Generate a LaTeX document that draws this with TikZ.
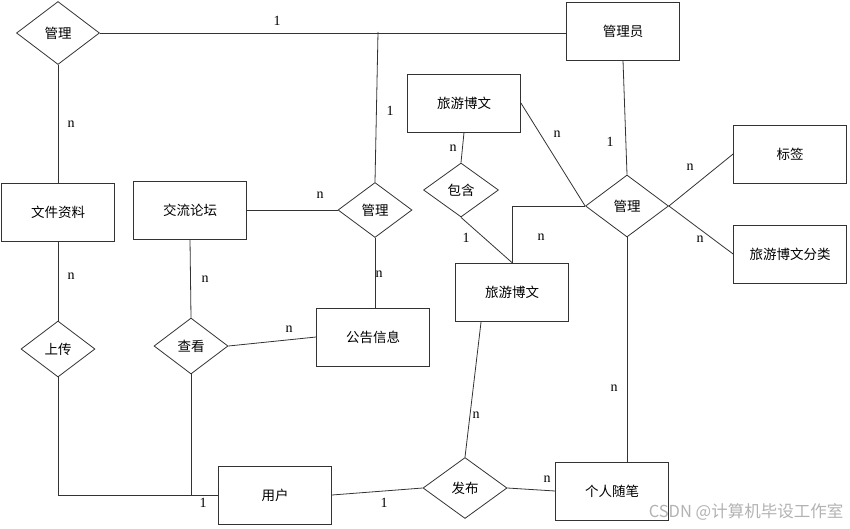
\documentclass[tikz,border=0pt]{standalone}
\usepackage{fontspec}
\setmainfont{Liberation Serif}
\newfontfamily\cjk{Noto Sans CJK SC}
\usetikzlibrary{shapes.geometric,calc}
\begin{document}
\begin{tikzpicture}[x=1pt,y=-1pt,
  ent/.style={draw=black!80,line width=0.8pt,minimum width=113pt,minimum height=58pt,inner sep=0pt,font=\cjk\fontsize{13.5}{15}\selectfont},
  rel/.style={draw=black!80,line width=0.8pt,diamond,aspect=1,inner sep=0pt,font=\cjk\fontsize{13.5}{15}\selectfont},
  lnk/.style={draw=black!80,line width=0.8pt},
  card/.style={inner sep=0pt,font=\fontsize{14}{16}\selectfont}]
\useasboundingbox (0,0) rectangle (850,528);
% entities
\node[ent] (adm) at (623,31) {管理员};
\node[ent] (file) at (58,212) {文件资料};
\node[ent] (forum) at (190,210) {交流论坛};
\node[ent] (notice) at (373,337) {公告信息};
\node[ent] (user) at (275,495) {用户};
\node[ent] (essay) at (612,491) {个人随笔};
\node[ent] (blog2) at (512,292) {旅游博文};
\node[ent] (blog1) at (464,103) {旅游博文};
\node[ent] (tag) at (790,154) {标签};
\node[ent] (cat) at (790,254) {旅游博文分类};
% relations
\node[rel,minimum width=83pt,minimum height=63pt] (m1) at (58,33) {管理};
\node[rel,minimum width=74pt,minimum height=55pt] (m2) at (375,210) {管理};
\node[rel,minimum width=74pt,minimum height=56pt] (up) at (58,349) {上传};
\node[rel,minimum width=74pt,minimum height=56pt] (view) at (191,346) {查看};
\node[rel,minimum width=84pt,minimum height=61pt] (pub) at (465,488) {发布};
\node[rel,minimum width=75pt,minimum height=54pt] (inc) at (461,190) {包含};
\node[rel,minimum width=83pt,minimum height=62pt] (m3) at (627,206) {管理};
\coordinate (j1) at (378,32);
% connectors
\draw[lnk] (m1.east) -- (m1.east -| adm.west);
\draw[lnk] (j1) -- (m2.north);
\draw[lnk] (m1.south) -- (file.north);
\draw[lnk] (forum.east) -- (m2.west);
\draw[lnk] (m2.south) -- (m2.south |- notice.north);
\draw[lnk] (file.south) -- (up.north);
\draw[lnk] (up.south) |- (user.west);
\draw[lnk] (forum.south) -- (view.north);
\draw[lnk] (view.east) -- (notice.west);
\draw[lnk] (view.south) -- (view.south |- user.west);
\draw[lnk] (user.east) -- (pub.west);
\draw[lnk] (pub.east) -- (essay.west);
\draw[lnk] (pub.north) -- ([xshift=26pt]blog2.south west);
\draw[lnk] (blog1.south) -- (inc.north);
\draw[lnk] (inc.south) -- (blog2.north);
\draw[lnk] (blog2.north) |- (m3.west);
\draw[lnk] (adm.south) -- (m3.north);
\draw[lnk] (blog1.east) -- (m3.west);
\draw[lnk] (m3.south) -- (m3.south |- essay.north);
\draw[lnk] (tag.west) -- (m3.east);
\draw[lnk] (cat.west) -- (m3.east);
% cardinalities
\node[card] (c1) at (277,21) {1};
\node[card] (c2) at (390,111) {1};
\node[card] (c3) at (71,124) {n};
\node[card] (c4) at (320,195) {n};
\node[card] (c5) at (379,274) {n};
\node[card] (c6) at (71,276) {n};
\node[card] (c7) at (205,279) {n};
\node[card] (c8) at (289,329) {n};
\node[card] (c9) at (203,503) {1};
\node[card] (c10) at (384,503) {1};
\node[card] (c11) at (547,479) {n};
\node[card] (c12) at (476,415) {n};
\node[card] (c13) at (453,148) {n};
\node[card] (c14) at (466,238) {1};
\node[card] (c15) at (541,237) {n};
\node[card] (c16) at (610,142) {1};
\node[card] (c17) at (557,134) {n};
\node[card] (c18) at (614,388) {n};
\node[card] (c19) at (690,167) {n};
\node[card] (c20) at (700,239) {n};
% watermark
\node[inner sep=0pt,text=black!30,font=\cjk\fontsize{16.5}{18}\selectfont] (wm) at (746,512) {CSDN @计算机毕设工作室};
\end{tikzpicture}
\end{document}
